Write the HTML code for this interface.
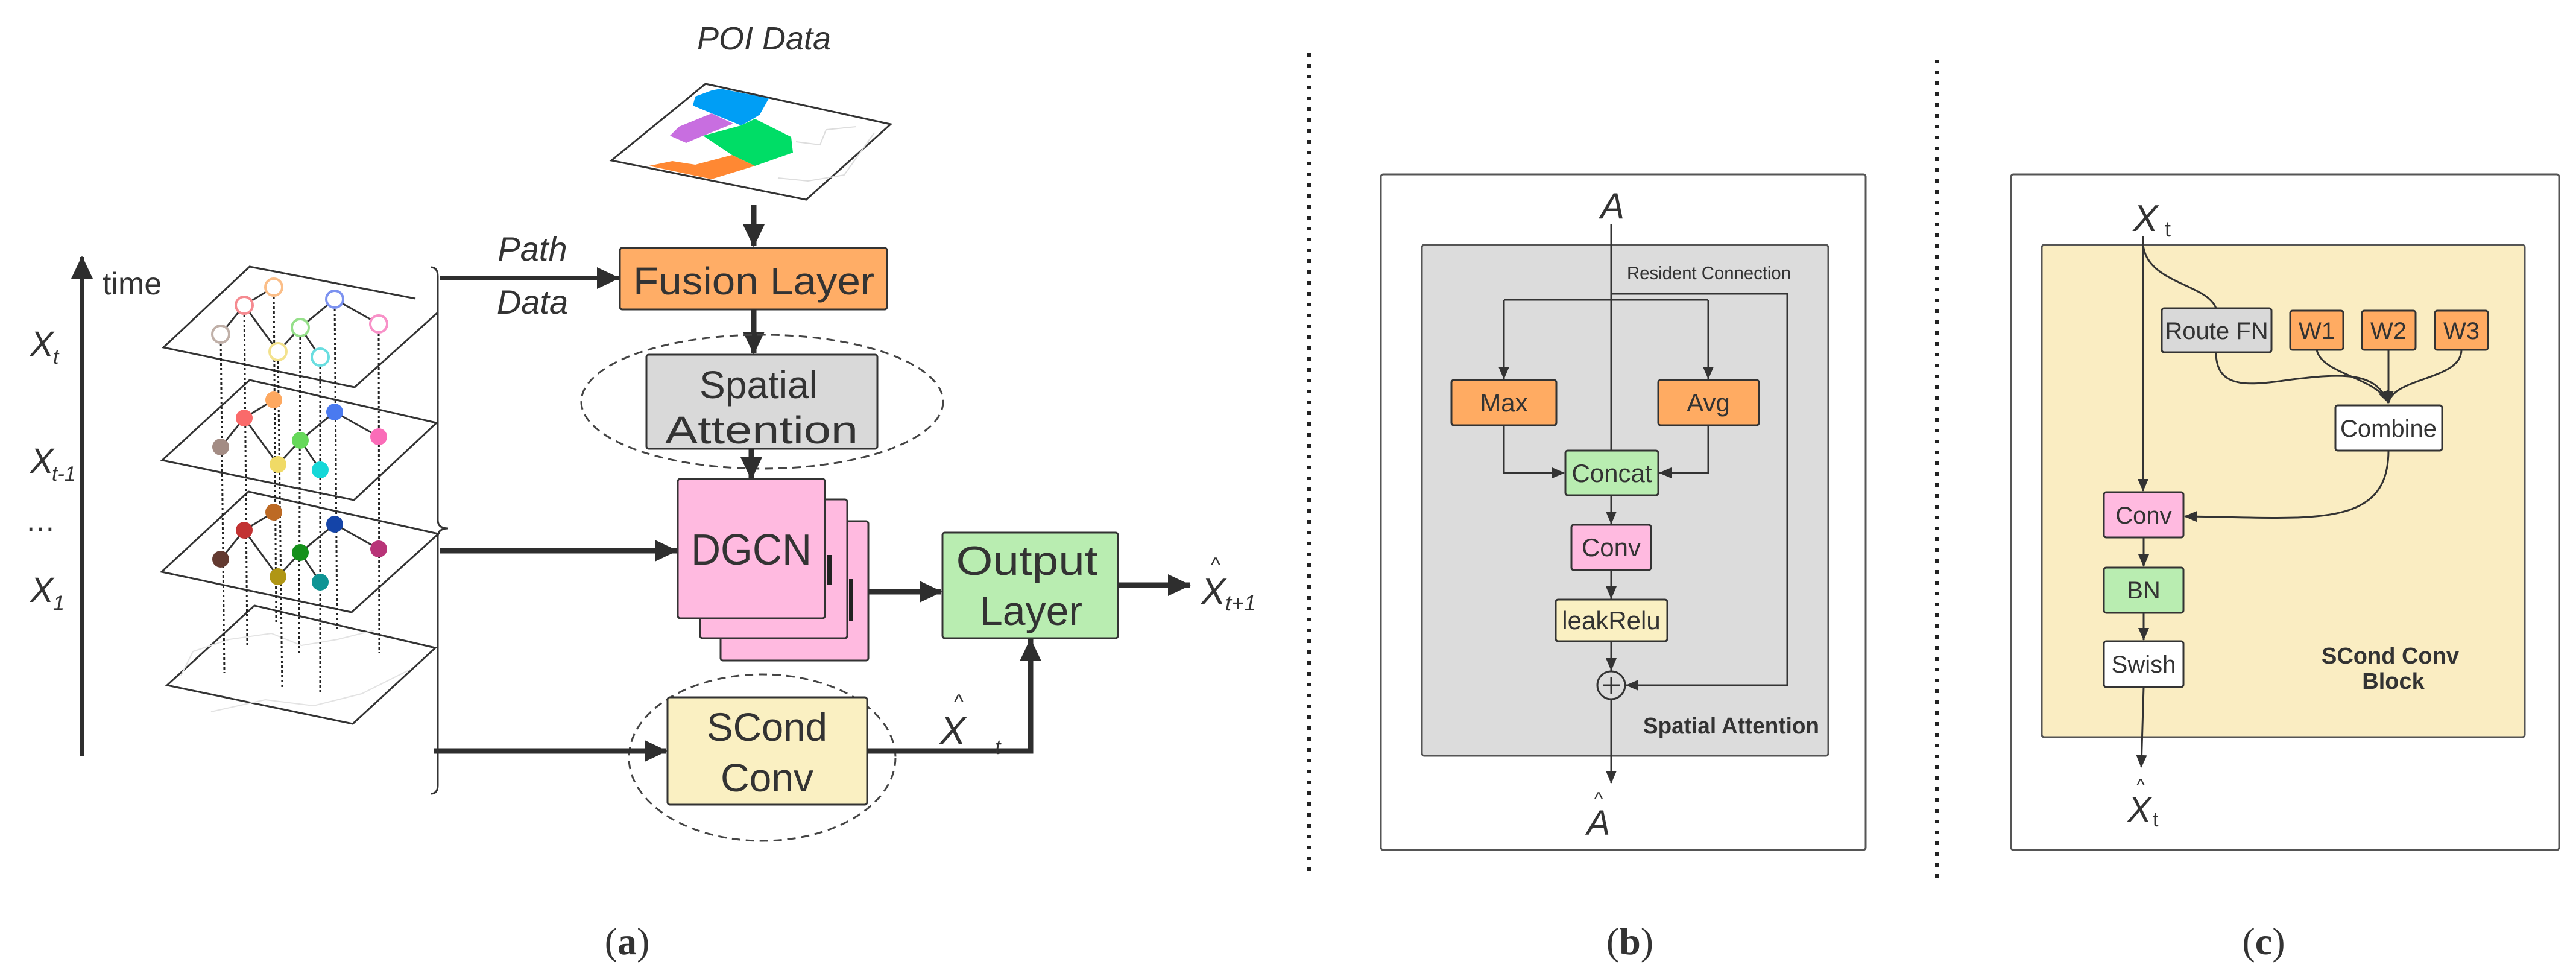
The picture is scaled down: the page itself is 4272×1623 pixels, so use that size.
<!DOCTYPE html>
<html><head><meta charset="utf-8"><style>
html,body{margin:0;padding:0;background:#fff;}
svg{display:block;}
text{font-family:"Liberation Sans",sans-serif;fill:#333;}
</style></head><body>
<svg width="4272" height="1623" viewBox="0 0 4272 1623" xmlns="http://www.w3.org/2000/svg">
<defs>
<marker id="big" markerUnits="userSpaceOnUse" markerWidth="40" markerHeight="40" refX="36" refY="20" orient="auto"><path d="M0,2 L38,20 L0,38 z" fill="#2e2e2e"/></marker>
<marker id="sm" markerUnits="userSpaceOnUse" markerWidth="22" markerHeight="20" refX="20" refY="10" orient="auto"><path d="M0,1 L21,10 L0,19 z" fill="#333"/></marker>
</defs>

<!-- ===== (a) ===== -->
<text x="1267" y="82" font-size="54" font-style="italic" text-anchor="middle">POI Data</text>
<!-- POI map -->
<polygon points="1170,139 1477,206 1337,331 1014,266" fill="#fff" stroke="#333" stroke-width="3"/>
<polygon points="1153,160 1180,150 1195,147 1275,163 1260,190 1249,197 1229,208 1149,175" fill="#009EF5"/>
<polygon points="1111,225 1126,210 1180,188 1216,205 1166,225 1138,237" fill="#C86EE0"/>
<polygon points="1166,225 1229,208 1252,197 1312,227 1315,253 1252,275 1214,257" fill="#00DD66"/>
<polygon points="1076,275 1115,267 1153,273 1214,257 1252,275 1180,297" fill="#FF8833"/>
<polyline points="1320,235 1360,240 1370,215 1420,210" fill="none" stroke="#ddd" stroke-width="2"/>
<polyline points="1290,295 1340,300 1400,290 1450,220" fill="none" stroke="#ddd" stroke-width="2"/>
<line x1="1250" y1="340" x2="1250" y2="408" stroke="#2e2e2e" stroke-width="9" marker-end="url(#big)"/>

<rect x="1028" y="411" width="443" height="102" rx="4" fill="#FFAD66" stroke="#333" stroke-width="3"/>
<text x="1250" y="488" font-size="64" text-anchor="middle" textLength="400" lengthAdjust="spacingAndGlyphs">Fusion Layer</text>
<text x="883" y="432" font-size="56" font-style="italic" text-anchor="middle">Path</text>
<text x="883" y="520" font-size="56" font-style="italic" text-anchor="middle">Data</text>
<line x1="729" y1="461" x2="1026" y2="461" stroke="#2e2e2e" stroke-width="8" marker-end="url(#big)"/>

<line x1="1250" y1="513" x2="1250" y2="586" stroke="#2e2e2e" stroke-width="9" marker-end="url(#big)"/>
<ellipse cx="1264" cy="666" rx="300" ry="111" fill="none" stroke="#444" stroke-width="3" stroke-dasharray="14,9"/>
<rect x="1072" y="588" width="383" height="156" rx="4" fill="#D9D9D9" stroke="#333" stroke-width="3"/>
<text x="1258" y="660" font-size="64" text-anchor="middle">Spatial</text>
<text x="1263" y="735" font-size="64" text-anchor="middle" textLength="320" lengthAdjust="spacingAndGlyphs">Attention</text>
<line x1="1246" y1="744" x2="1246" y2="794" stroke="#2e2e2e" stroke-width="9" marker-end="url(#big)"/>

<!-- DGCN stack -->
<rect x="1195" y="864" width="245" height="231" rx="4" fill="#FFBAE0" stroke="#333" stroke-width="3"/>
<rect x="1408" y="960" width="7" height="70" fill="#222"/>
<rect x="1161" y="828" width="244" height="230" rx="4" fill="#FFBAE0" stroke="#333" stroke-width="3"/>
<rect x="1372" y="920" width="7" height="50" fill="#222"/>
<rect x="1124" y="794" width="244" height="231" rx="4" fill="#FFBAE0" stroke="#333" stroke-width="3"/>
<text x="1246" y="936" font-size="72" text-anchor="middle" textLength="200" lengthAdjust="spacingAndGlyphs">DGCN</text>
<line x1="729" y1="913" x2="1122" y2="913" stroke="#2e2e2e" stroke-width="9" marker-end="url(#big)"/>
<line x1="1440" y1="981" x2="1561" y2="981" stroke="#2e2e2e" stroke-width="9" marker-end="url(#big)"/>

<rect x="1563" y="883" width="291" height="175" rx="4" fill="#B9EDB1" stroke="#333" stroke-width="3"/>
<text x="1703" y="953" font-size="68" text-anchor="middle" textLength="235" lengthAdjust="spacingAndGlyphs">Output</text>
<text x="1710" y="1036" font-size="68" text-anchor="middle" textLength="170" lengthAdjust="spacingAndGlyphs">Layer</text>
<line x1="1854" y1="970" x2="1973" y2="970" stroke="#2e2e2e" stroke-width="9" marker-end="url(#big)"/>
<text x="2012" y="1002" font-size="62" font-style="italic" text-anchor="middle">X</text>
<text x="2016" y="948" font-size="34" text-anchor="middle">^</text>
<text x="2032" y="1012" font-size="36" font-style="italic">t+1</text>

<ellipse cx="1264" cy="1256" rx="221" ry="138" fill="none" stroke="#444" stroke-width="3" stroke-dasharray="14,9"/>
<rect x="1107" y="1156" width="331" height="178" rx="4" fill="#FAF0C2" stroke="#333" stroke-width="3"/>
<text x="1272" y="1228" font-size="66" text-anchor="middle" textLength="200" lengthAdjust="spacingAndGlyphs">SCond</text>
<text x="1272" y="1312" font-size="66" text-anchor="middle">Conv</text>
<line x1="720" y1="1245" x2="1105" y2="1245" stroke="#2e2e2e" stroke-width="9" marker-end="url(#big)"/>
<polyline points="1438,1245 1709,1245 1709,1060" fill="none" stroke="#2e2e2e" stroke-width="9" marker-end="url(#big)"/>
<text x="1580" y="1233" font-size="64" font-style="italic" text-anchor="middle">X</text>
<text x="1590" y="1175" font-size="34" text-anchor="middle">^</text>
<text x="1650" y="1250" font-size="34" font-style="italic">t</text>

<!-- time axis -->
<line x1="136" y1="1253" x2="136" y2="426" stroke="#2e2e2e" stroke-width="8" marker-end="url(#big)"/>
<text x="170" y="488" font-size="52">time</text>
<text x="50" y="590" font-size="58" font-style="italic">X</text><text x="88" y="603" font-size="34" font-style="italic">t</text>
<text x="50" y="784" font-size="58" font-style="italic">X</text><text x="86" y="797" font-size="34" font-style="italic">t-1</text>
<text x="42" y="880" font-size="50">…</text>
<text x="50" y="998" font-size="58" font-style="italic">X</text><text x="88" y="1011" font-size="34" font-style="italic">1</text>

<!-- brace -->
<path d="M714,443 Q726,443 726,458 L726,862 Q726,876 743,876 Q726,876 726,890 L726,1302 Q726,1316 714,1316" fill="none" stroke="#333" stroke-width="3"/>

<!-- layers -->
<g stroke="#333" stroke-width="3" fill="#fff">
<polygon points="422,1004 722,1074 585,1200 277,1136"/>
<polyline points="300,1120 320,1080 380,1060 450,1050 500,1070 560,1060 620,1045" fill="none" stroke="#e3e3e3" stroke-width="2"/>
<polyline points="350,1180 440,1160 520,1170 600,1150 680,1110" fill="none" stroke="#e3e3e3" stroke-width="2"/>
<polygon points="412,815 727,885 583,1015 268,948" fill="none"/>
<polygon points="414,630 724,701 587,829 269,763" fill="none"/>
<polyline points="689,495 414,442 271,576 588,642 726,518" fill="none"/>
</g>
<g stroke="#222" stroke-width="3" stroke-dasharray="4,4" fill="none">
<line x1="366" y1="554" x2="372" y2="1115"/>
<line x1="405" y1="506" x2="410" y2="1069"/>
<line x1="454" y1="476" x2="458" y2="1031"/>
<line x1="461" y1="583" x2="468" y2="1140"/>
<line x1="498" y1="543" x2="496" y2="1083"/>
<line x1="531" y1="592" x2="531" y2="1152"/>
<line x1="555" y1="496" x2="559" y2="1043"/>
<line x1="628" y1="537" x2="629" y2="1083"/>
</g>
<!-- graph edges (three layers) -->
<g stroke="#333" stroke-width="3" fill="none">
<path d="M366,554 L405,506 L454,476 M405,506 L461,583 L498,543 L555,496 L628,537 M498,543 L531,592"/>
<path transform="translate(0,187)" d="M366,554 L405,506 L454,476 M405,506 L461,583 L498,543 L555,496 L628,537 M498,543 L531,592"/>
<path transform="translate(0,373)" d="M366,554 L405,506 L454,476 M405,506 L461,583 L498,543 L555,496 L628,537 M498,543 L531,592"/>
</g>
<g stroke-width="4" fill="#fff">
<circle cx="366" cy="554" r="14" stroke="#C0B0A8"/>
<circle cx="405" cy="506" r="14" stroke="#F58A90"/>
<circle cx="454" cy="476" r="14" stroke="#FBBE88"/>
<circle cx="461" cy="583" r="14" stroke="#F3E28E"/>
<circle cx="498" cy="543" r="14" stroke="#96E08A"/>
<circle cx="531" cy="592" r="14" stroke="#6ADEE0"/>
<circle cx="555" cy="496" r="14" stroke="#7C92F0"/>
<circle cx="628" cy="537" r="14" stroke="#F891C8"/>
</g>
<g transform="translate(0,187)">
<circle cx="366" cy="554" r="14" fill="#A38C84"/>
<circle cx="405" cy="506" r="14" fill="#FA6A6A"/>
<circle cx="454" cy="476" r="14" fill="#FDA860"/>
<circle cx="461" cy="583" r="14" fill="#F0DA66"/>
<circle cx="498" cy="543" r="14" fill="#66D85A"/>
<circle cx="531" cy="592" r="14" fill="#16D8D8"/>
<circle cx="555" cy="496" r="14" fill="#4A7AF0"/>
<circle cx="628" cy="537" r="14" fill="#FA6CB8"/>
</g>
<g transform="translate(0,373)">
<circle cx="366" cy="554" r="14" fill="#633A30"/>
<circle cx="405" cy="506" r="14" fill="#C23232"/>
<circle cx="454" cy="476" r="14" fill="#BD6A24"/>
<circle cx="461" cy="583" r="14" fill="#B09614"/>
<circle cx="498" cy="543" r="14" fill="#14901A"/>
<circle cx="531" cy="592" r="14" fill="#0E9494"/>
<circle cx="555" cy="496" r="14" fill="#1444A8"/>
<circle cx="628" cy="537" r="14" fill="#B83478"/>
</g>

<text x="1040" y="1582" font-size="64" font-family="Liberation Serif, serif" text-anchor="middle" style="font-family:'Liberation Serif',serif">(<tspan font-weight="bold">a</tspan>)</text>

<!-- dotted separators -->
<line x1="2171" y1="88" x2="2171" y2="1446" stroke="#222" stroke-width="6" stroke-dasharray="6,12"/>
<line x1="3212" y1="99" x2="3212" y2="1461" stroke="#222" stroke-width="6" stroke-dasharray="6,12"/>

<!-- ===== (b) ===== -->
<rect x="2290" y="289" width="804" height="1120" rx="4" fill="#fff" stroke="#555" stroke-width="3"/>
<rect x="2358" y="406" width="674" height="847" rx="4" fill="#DCDCDC" stroke="#555" stroke-width="3"/>
<text x="2674" y="362" font-size="60" font-style="italic" text-anchor="middle">A</text>
<g stroke="#333" stroke-width="3" fill="none">
<line x1="2672" y1="372" x2="2672" y2="1113"/>
<polyline points="2494,497 2833,497"/>
<line x1="2494" y1="497" x2="2494" y2="628" marker-end="url(#sm)"/>
<line x1="2833" y1="497" x2="2833" y2="628" marker-end="url(#sm)"/>
<polyline points="2672,487 2964,487 2964,1136 2697,1136" marker-end="url(#sm)"/>
<polyline points="2494,705 2494,784 2594,784" marker-end="url(#sm)"/>
<polyline points="2833,705 2833,784 2752,784" marker-end="url(#sm)"/>
<line x1="2672" y1="821" x2="2672" y2="868" marker-end="url(#sm)"/>
<line x1="2672" y1="945" x2="2672" y2="992" marker-end="url(#sm)"/>
<line x1="2672" y1="1063" x2="2672" y2="1111" marker-end="url(#sm)"/>
<line x1="2672" y1="1159" x2="2672" y2="1298" marker-end="url(#sm)"/>
<circle cx="2672" cy="1136" r="23" fill="none"/>
<line x1="2658" y1="1136" x2="2686" y2="1136"/>
<line x1="2672" y1="1122" x2="2672" y2="1150"/>
</g>
<text x="2834" y="463" font-size="31" text-anchor="middle" fill="#444" textLength="272" lengthAdjust="spacingAndGlyphs">Resident Connection</text>
<rect x="2407" y="630" width="174" height="75" rx="4" fill="#FFAB62" stroke="#333" stroke-width="3"/>
<text x="2494" y="682" font-size="42" text-anchor="middle">Max</text>
<rect x="2750" y="630" width="167" height="75" rx="4" fill="#FFAB62" stroke="#333" stroke-width="3"/>
<text x="2833" y="682" font-size="42" text-anchor="middle">Avg</text>
<rect x="2596" y="747" width="154" height="74" rx="4" fill="#B9EDB1" stroke="#333" stroke-width="3"/>
<text x="2673" y="799" font-size="42" text-anchor="middle">Concat</text>
<rect x="2606" y="870" width="132" height="75" rx="4" fill="#FFBAE0" stroke="#333" stroke-width="3"/>
<text x="2672" y="922" font-size="42" text-anchor="middle">Conv</text>
<rect x="2580" y="994" width="185" height="69" rx="4" fill="#FAF0C2" stroke="#333" stroke-width="3"/>
<text x="2672" y="1043" font-size="42" text-anchor="middle">leakRelu</text>
<text x="2871" y="1216" font-size="38" font-weight="bold" text-anchor="middle" textLength="292" lengthAdjust="spacingAndGlyphs">Spatial Attention</text>
<text x="2651" y="1384" font-size="58" font-style="italic" text-anchor="middle">A</text>
<text x="2651" y="1334" font-size="30" text-anchor="middle">^</text>
<text x="2703" y="1582" font-size="64" text-anchor="middle" style="font-family:'Liberation Serif',serif">(<tspan font-weight="bold">b</tspan>)</text>

<!-- ===== (c) ===== -->
<rect x="3335" y="289" width="909" height="1120" rx="4" fill="#fff" stroke="#555" stroke-width="3"/>
<rect x="3386" y="406" width="801" height="816" rx="4" fill="#FAEDC2" stroke="#555" stroke-width="3"/>
<text x="3558" y="383" font-size="62" font-style="italic" text-anchor="middle">X</text>
<text x="3590" y="392" font-size="36">t</text>
<g stroke="#333" stroke-width="3" fill="none">
<line x1="3554" y1="392" x2="3554" y2="814" marker-end="url(#sm)"/>
<path d="M3554,405 C3560,470 3660,470 3675,511"/>
<path d="M3675,584 C3675,640 3720,640 3780,632 C3900,615 3940,620 3961,668" marker-end="url(#sm)"/>
<path d="M3842,580 C3850,620 3940,625 3961,668"/>
<line x1="3961" y1="580" x2="3961" y2="668" marker-end="url(#sm)"/>
<path d="M4082,580 C4082,630 3970,625 3961,668"/>
<path d="M3961,747 C3961,880 3830,858 3623,856" marker-end="url(#sm)"/>
<line x1="3555" y1="889" x2="3555" y2="939" marker-end="url(#sm)"/>
<line x1="3555" y1="1016" x2="3555" y2="1061" marker-end="url(#sm)"/>
<line x1="3555" y1="1139" x2="3551" y2="1272" marker-end="url(#sm)"/>
</g>
<rect x="3585" y="511" width="182" height="73" rx="4" fill="#D9D9D9" stroke="#333" stroke-width="3"/>
<text x="3676" y="562" font-size="40" text-anchor="middle">Route FN</text>
<rect x="3798" y="515" width="88" height="65" rx="4" fill="#FFAB62" stroke="#333" stroke-width="3"/>
<text x="3842" y="562" font-size="40" text-anchor="middle">W1</text>
<rect x="3917" y="515" width="89" height="65" rx="4" fill="#FFAB62" stroke="#333" stroke-width="3"/>
<text x="3961" y="562" font-size="40" text-anchor="middle">W2</text>
<rect x="4038" y="515" width="88" height="65" rx="4" fill="#FFAB62" stroke="#333" stroke-width="3"/>
<text x="4082" y="562" font-size="40" text-anchor="middle">W3</text>
<rect x="3873" y="672" width="177" height="75" rx="4" fill="#fff" stroke="#333" stroke-width="3"/>
<text x="3961" y="724" font-size="40" text-anchor="middle">Combine</text>
<rect x="3489" y="816" width="132" height="75" rx="4" fill="#FFBAE0" stroke="#333" stroke-width="3"/>
<text x="3555" y="868" font-size="40" text-anchor="middle">Conv</text>
<rect x="3489" y="941" width="132" height="75" rx="4" fill="#B9EDB1" stroke="#333" stroke-width="3"/>
<text x="3555" y="992" font-size="40" text-anchor="middle">BN</text>
<rect x="3489" y="1063" width="132" height="76" rx="4" fill="#fff" stroke="#333" stroke-width="3"/>
<text x="3555" y="1115" font-size="40" text-anchor="middle">Swish</text>
<text x="3964" y="1100" font-size="38" font-weight="bold" text-anchor="middle">SCond Conv</text>
<text x="3969" y="1142" font-size="38" font-weight="bold" text-anchor="middle">Block</text>
<text x="3548" y="1362" font-size="58" font-style="italic" text-anchor="middle">X</text>
<text x="3550" y="1312" font-size="30" text-anchor="middle">^</text>
<text x="3570" y="1370" font-size="34">t</text>
<text x="3754" y="1582" font-size="64" text-anchor="middle" style="font-family:'Liberation Serif',serif">(<tspan font-weight="bold">c</tspan>)</text>
</svg>
</body></html>
